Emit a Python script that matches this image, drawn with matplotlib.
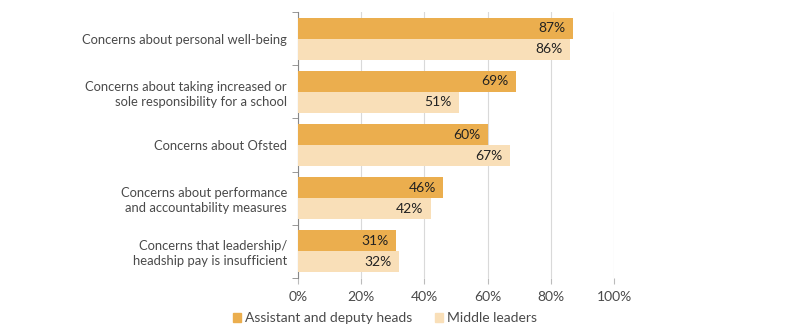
import numpy as np
import matplotlib.pyplot as plt
from matplotlib.ticker import FixedLocator, PercentFormatter
from matplotlib.patches import Patch

categories = ['Concerns about personal well-being',
              'Concerns about taking increased or\nsole responsibility for a school',
              'Concerns about Ofsted',
              'Concerns about performance\nand accountability measures',
              'Concerns that leadership/\nheadship pay is insufficient']
deputy = [87, 69, 60, 46, 31]
middle = [86, 51, 67, 42, 32]
series_names = ['Assistant and deputy heads', 'Middle leaders']

c_dark = '#EBAE4E'
c_light = '#F9DFB8'
txt = '#4a4a4a'

plt.rcParams['font.family'] = ['Lato', 'DejaVu Sans']

fig = plt.figure(figsize=(8, 3.35), dpi=100)
ax = fig.add_axes([0.3725, 0.170, 0.395, 0.794])

n = len(categories)
y = np.arange(n)
h = 0.395
b1 = ax.barh(y - h/2, deputy, height=h, color=c_dark, zorder=3)
b2 = ax.barh(y + h/2, middle, height=h, color=c_light, zorder=3)

for bars, vals in ((b1, deputy), (b2, middle)):
    for r, v in zip(bars, vals):
        ax.text(v - 2.4, r.get_y() + r.get_height()/2, f'{v}%', ha='right', va='center',
                fontsize=10, color='#222222', zorder=4)

ax.set_ylim(n - 0.5, -0.5)
ax.set_xlim(0, 100)
ax.set_yticks(y)
ax.set_yticklabels(categories, fontsize=9.4, color=txt, ha='right', linespacing=1.3)
ax.yaxis.set_minor_locator(FixedLocator(np.arange(-0.5, n, 1)))
ax.tick_params(axis='y', which='major', length=0, pad=8)
ax.tick_params(axis='y', which='minor', length=4, color='#888888', direction='out')

ax.set_xticks(np.arange(0, 101, 20))
ax.xaxis.set_major_formatter(PercentFormatter(decimals=0))
ax.tick_params(axis='x', length=4, color='#bbbbbb', labelsize=10, labelcolor=txt, pad=5)
ax.grid(axis='x', color='#d9d9d9', linewidth=0.8, zorder=0)

for s in ('top', 'right', 'bottom'):
    ax.spines[s].set_visible(False)
ax.spines['left'].set_color('#888888')
ax.spines['left'].set_linewidth(0.8)

handles = [Patch(color=c_dark), Patch(color=c_light)]
fig.legend(handles, series_names, loc='center', bbox_to_anchor=(0.481, 0.05), ncol=2,
           frameon=False, fontsize=10, labelcolor=txt, handlelength=0.6, handleheight=0.6,
           handletextpad=0.3, columnspacing=1.6)

fig.savefig('out.png', dpi=100)
